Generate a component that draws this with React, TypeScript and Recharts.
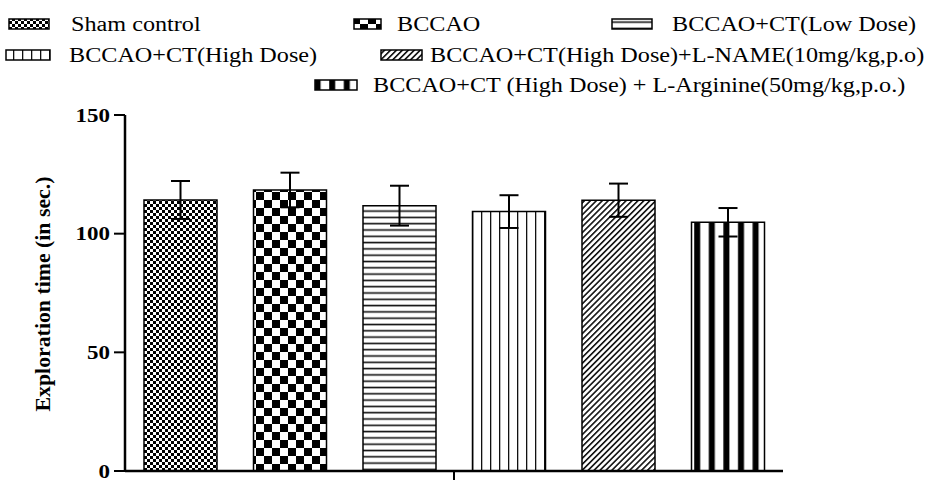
import React from 'react';
import { BarChart, Bar, XAxis, YAxis, ErrorBar, Legend } from 'recharts';

const groups = [
  'Sham control',
  'BCCAO',
  'BCCAO+CT(Low Dose)',
  'BCCAO+CT(High Dose)',
  'BCCAO+CT(High Dose)+L-NAME(10mg/kg,p.o)',
  'BCCAO+CT (High Dose) + L-Arginine(50mg/kg,p.o.)',
];
const seriesKeys = ['sham', 'bccao', 'low', 'high', 'lname', 'larg'];
const means = [114.2, 118.4, 111.8, 109.3, 114.1, 104.8];
const sems = [8.0, 7.3, 8.4, 6.9, 7.0, 6.0];
const yTicks = [0, 50, 100, 150];
const yLabel = 'Exploration time (in sec.)';
const patternIds = ['pSham', 'pBccao', 'pLow', 'pHigh', 'pLname', 'pLarg'];

const row: Record<string, any> = { name: 'group' };
seriesKeys.forEach((k, i) => {
  row[k] = means[i];
  row[k + 'Err'] = sems[i];
});
const data = [row];

const FONT = '"Liberation Serif", "Times New Roman", serif';
const SX = 1.21;

const patternDefs = (prefix: string) => (
  <defs>
    <pattern id={prefix + 'pSham'} width={6} height={6} patternUnits="userSpaceOnUse">
      <rect width={6} height={6} fill="#fff" />
      <rect width={3} height={3} fill="#000" />
      <rect x={3} y={3} width={3} height={3} fill="#000" />
    </pattern>
    <pattern id={prefix + 'pBccao'} width={16} height={16} patternUnits="userSpaceOnUse">
      <rect width={16} height={16} fill="#fff" />
      <rect width={8} height={8} fill="#000" />
      <rect x={8} y={8} width={8} height={8} fill="#000" />
    </pattern>
    <pattern id={prefix + 'pLow'} width={10} height={6.3} patternUnits="userSpaceOnUse">
      <rect width={10} height={6.3} fill="#fff" />
      <rect y={2.4} width={10} height={1.6} fill="#111" />
    </pattern>
    <pattern id={prefix + 'pHigh'} width={9} height={10} patternUnits="userSpaceOnUse">
      <rect width={9} height={10} fill="#fff" />
      <rect x={4} width={1.3} height={10} fill="#111" />
    </pattern>
    <pattern id={prefix + 'pLname'} width={4.2} height={10} patternUnits="userSpaceOnUse" patternTransform="rotate(45)">
      <rect width={4.2} height={10} fill="#fff" />
      <rect width={1.6} height={10} fill="#111" />
    </pattern>
    <pattern id={prefix + 'pLarg'} width={14.6} height={10} patternUnits="userSpaceOnUse">
      <rect width={14.6} height={10} fill="#fff" />
      <rect x={8} width={6} height={10} fill="#000" />
    </pattern>
  </defs>
);

const STxt = ({ x, y, children, size = 20, weight = 'normal', anchor = 'start' }: any) => (
  <text
    transform={`translate(${x},${y}) scale(${SX},1)`}
    fontFamily={FONT}
    fontSize={size}
    fontWeight={weight}
    textAnchor={anchor}
    fill="#000"
  >
    {children}
  </text>
);

// legend layout: [swatchX, swatchW, textX, rowY]
const legendLayout = [
  [9, 40, 71, 24],
  [354, 27, 397, 24],
  [612, 40, 672, 24],
  [6, 44, 69, 55],
  [381, 41, 430, 55],
  [315, 42, 373, 85],
];

const LegendContent = () => (
  <svg width={941} height={105} style={{ display: 'block' }}>
    {patternDefs('lg')}
    {groups.map((g, i) => {
      const [sx, sw, tx, ry] = legendLayout[i];
      return (
        <g key={g}>
          <rect x={sx} y={ry - 5} width={sw} height={10} fill={`url(#lg${patternIds[i]})`} stroke="#000" strokeWidth={1.5} />
          <STxt x={tx} y={ry + 7}>{g}</STxt>
        </g>
      );
    })}
  </svg>
);

const YTick = ({ x, y, payload }: any) => (
  <STxt x={x} y={y + 6.5} size={19} weight="bold" anchor="end">{payload.value}</STxt>
);

const YLabel = () => (
  <text
    transform="translate(50,294) rotate(-90)"
    fontFamily={FONT}
    fontSize={20}
    fontWeight="bold"
    textAnchor="middle"
    textLength={235}
    lengthAdjust="spacingAndGlyphs"
    fill="#000"
  >
    {yLabel}
  </text>
);

export default function App() {
  return (
    <div style={{ position: 'absolute', left: 0, top: 0 }}>
      <BarChart
        width={941}
        height={481}
        data={data}
        margin={{ top: 115, right: 158, bottom: 0, left: 0 }}
        barSize={73}
        barGap={36.5}
      >
        {patternDefs('ch')}
        <XAxis
          dataKey="name"
          height={10}
          axisLine={{ stroke: '#000', strokeWidth: 2.5 }}
          tickLine={{ stroke: '#000', strokeWidth: 2 }}
          tickSize={9}
          tick={() => <g />}
        />
        <YAxis
          width={125}
          domain={[0, 150]}
          ticks={yTicks}
          axisLine={{ stroke: '#000', strokeWidth: 2.5 }}
          tickLine={{ stroke: '#000', strokeWidth: 2 }}
          tickSize={11}
          tickMargin={4}
          tick={<YTick />}
          label={{ content: () => <YLabel /> }}
        />
        <Legend
          verticalAlign="middle"
          align="center"
          layout="horizontal"
          wrapperStyle={{ top: 0, left: 0, width: 941, height: 105 }}
          content={() => <LegendContent />}
        />
        {seriesKeys.map((k, i) => (
          <Bar
            key={k}
            dataKey={k}
            name={groups[i]}
            fill={`url(#ch${patternIds[i]})`}
            stroke="#000"
            strokeWidth={1.5}
            isAnimationActive={false}
          >
            <ErrorBar dataKey={k + 'Err'} width={9.5} stroke="#000" strokeWidth={2} direction="y" />
          </Bar>
        ))}
      </BarChart>
    </div>
  );
}
